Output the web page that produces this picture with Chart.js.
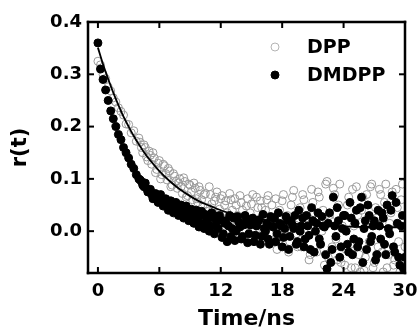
<!DOCTYPE html>
<html>
<head>
<meta charset="utf-8">
<script src="https://cdn.jsdelivr.net/npm/chart.js@4.4.1/dist/chart.umd.min.js"></script>
<style>
body { margin: 0; background: #fff; }
canvas { display: block; }
</style>
</head>
<body>
<canvas id="chart" width="418" height="332"></canvas>
<script>
// ----------------------------------------------------------------------
//	anisotropy decay r(t), DPP / DMDPP
// ----------------------------------------------------------------------
const times = [
	0,0.25,0.5,0.75,1,1.25,1.5,1.75,2,2.25,2.5,2.75,3,3.25,3.5,3.75,
	4,4.25,4.5,4.75,5,5.25,5.5,5.75,6,6.25,6.5,6.75,7,7.25,7.5,7.75,
	8,8.25,8.5,8.75,9,9.25,9.5,9.75,10,10.25,10.5,10.75,11,11.25,11.5,11.75,
	12,12.25,12.5,12.75,13,13.25,13.5,13.75,14,14.25,14.5,14.75,15,15.25,15.5,15.75,
	16,16.25,16.5,16.75,17,17.25,17.5,17.75,18,18.25,18.5,18.75,19,19.25,19.5,19.75,
	20,20.25,20.5,20.75,21,21.25,21.5,21.75,22,22.25,22.5,22.75,23,23.25,23.5,23.75,
	24,24.25,24.5,24.75,25,25.25,25.5,25.75,26,26.25,26.5,26.75,27,27.25,27.5,27.75,
	28,28.25,28.5,28.75,29,29.25,29.5,29.75,30]

const dpp_r = [
	0.325,0.318,0.300,0.292,0.276,0.268,0.255,0.247,0.236,0.229,0.222,0.205,0.204,0.188,0.192,0.172,
	0.178,0.160,0.165,0.142,0.153,0.128,0.140,0.118,0.135,0.108,0.125,0.098,0.115,0.088,0.105,0.082,
	0.100,0.072,0.095,0.068,0.088,0.060,0.082,0.055,0.078,0.048,0.072,0.045,0.070,0.040,0.065,0.035,
	0.062,0.030,0.058,0.028,0.060,0.022,0.050,0.018,0.055,0.015,0.048,0.010,0.052,0.020,0.065,0.005,
	0.045,0.030,0.060,-0.005,0.050,0.015,-0.035,0.040,0.058,0.002,0.030,-0.020,0.065,0.012,-0.030,0.045,
	0.070,-0.010,0.025,-0.045,0.055,0.008,0.075,-0.025,0.040,0.090,-0.050,0.020,0.082,-0.015,0.050,-0.060,
	0.030,-0.035,0.065,-0.070,0.010,0.085,-0.045,0.040,-0.075,0.070,-0.020,0.090,-0.060,0.025,0.080,-0.040,
	0.055,-0.070,0.015,0.075,-0.055,0.045,-0.078,0.090,-0.030]

const dmdpp_r = [
	0.360,0.310,0.290,0.270,0.250,0.230,0.215,0.200,0.185,0.175,0.160,0.150,0.140,0.128,0.120,0.108,
	0.100,0.095,0.085,0.082,0.075,0.070,0.068,0.060,0.062,0.055,0.058,0.048,0.050,0.042,0.048,0.038,
	0.044,0.032,0.040,0.028,0.036,0.022,0.033,0.020,0.030,0.015,0.032,0.012,0.025,0.010,0.028,0.005,
	0.022,-0.005,0.020,0.010,-0.010,0.025,0.000,0.018,-0.015,0.012,0.020,-0.005,0.015,-0.020,0.010,0.022,
	-0.010,0.005,0.015,-0.025,0.010,0.025,-0.005,0.015,-0.030,0.005,0.020,-0.010,0.012,0.030,-0.020,0.000,
	0.025,-0.015,0.010,-0.035,0.020,0.000,0.035,-0.025,0.010,-0.045,0.015,-0.060,0.065,-0.010,0.020,-0.030,
	0.030,0.000,-0.040,0.025,-0.015,0.040,-0.020,0.065,0.005,-0.035,0.030,-0.010,0.020,-0.045,0.010,0.035,
	-0.025,0.050,-0.005,0.068,-0.040,0.015,-0.065,0.030,-0.050]

// second set of channels, between the ones above (t >= 4 ns)
const times_b = [
	4.125,4.375,4.625,4.875,5.125,5.375,5.625,5.875,6.125,6.375,6.625,6.875,7.125,7.375,7.625,7.875,
	8.125,8.375,8.625,8.875,9.125,9.375,9.625,9.875,10.125,10.375,10.625,10.875,11.125,11.375,11.625,11.875,
	12.125,12.375,12.625,12.875,13.125,13.375,13.625,13.875,14.125,14.375,14.625,14.875,15.125,15.375,15.625,15.875,
	16.125,16.375,16.625,16.875,17.125,17.375,17.625,17.875,18.125,18.375,18.625,18.875,19.125,19.375,19.625,19.875,
	20.125,20.375,20.625,20.875,21.125,21.375,21.625,21.875,22.125,22.375,22.625,22.875,23.125,23.375,23.625,23.875,
	24.125,24.375,24.625,24.875,25.125,25.375,25.625,25.875,26.125,26.375,26.625,26.875,27.125,27.375,27.625,27.875,
	28.125,28.375,28.625,28.875,29.125,29.375,29.625,29.875]

const dpp_r_b = [
	0.170,0.150,0.160,0.135,0.145,0.150,0.112,0.130,0.100,0.128,0.110,0.120,0.085,0.110,0.095,0.092,
	0.085,0.102,0.065,0.090,0.075,0.092,0.062,0.085,0.060,0.070,0.038,0.085,0.052,0.058,0.075,0.042,
	0.068,0.050,0.035,0.072,0.040,0.062,0.030,0.068,0.040,0.025,0.062,0.035,0.070,0.000,0.045,0.058,
	0.010,0.040,0.068,0.020,-0.020,0.062,0.035,-0.010,0.070,0.025,-0.040,0.050,0.078,-0.005,0.035,-0.030,
	0.060,0.020,-0.055,0.080,0.035,-0.040,0.065,0.000,-0.065,0.095,0.030,-0.030,0.070,-0.055,0.090,0.010,
	-0.065,0.050,-0.025,0.080,-0.070,0.030,-0.078,0.065,-0.050,0.020,0.085,-0.070,0.045,-0.030,0.070,-0.078,
	0.090,-0.045,0.035,-0.065,0.080,-0.020,0.060,-0.075]

const dmdpp_r_b = [
	0.098,0.088,0.092,0.075,0.080,0.062,0.072,0.055,0.070,0.048,0.062,0.040,0.058,0.035,0.055,0.030,
	0.050,0.025,0.048,0.020,0.042,0.015,0.040,0.008,0.038,0.005,0.025,0.000,0.035,-0.005,0.018,0.030,
	-0.012,0.015,-0.020,0.030,0.005,-0.018,0.028,0.008,-0.010,0.030,-0.022,0.012,0.025,-0.008,0.018,-0.025,
	0.032,0.000,-0.015,0.028,0.008,-0.020,0.035,0.010,-0.012,0.028,-0.035,0.020,0.005,-0.025,0.040,0.010,
	-0.030,0.030,-0.008,0.045,-0.040,0.015,-0.015,0.028,0.008,-0.072,0.035,-0.035,0.010,0.045,-0.050,0.005,
	0.030,-0.025,0.055,-0.045,0.015,-0.030,0.045,-0.060,0.020,0.050,-0.020,0.010,-0.055,0.040,-0.015,0.025,
	-0.045,0.005,0.040,-0.030,0.055,-0.050,0.010,-0.072]

// fitted curve
const fit_times = [0,0.5,1,1.5,2,2.5,3,3.5,4,4.5,5,6,7,8,9,10,11,12,13,14,15,16,18,20,22,24,26,28,30]
const fit_r = [0.351,0.319,0.291,0.265,0.241,0.219,0.200,0.182,0.166,0.151,0.138,0.115,0.096,0.080,
	0.067,0.056,0.048,0.040,0.034,0.029,0.025,0.022,0.017,0.013,0.011,0.009,0.008,0.008,0.007]

const x_ticks = [0,6,12,18,24,30]
const y_ticks = [0.0,0.1,0.2,0.3,0.4]

const font_family = "'DejaVu Sans', sans-serif"

// ----------------------------------------------------------------------
function to_points (xs,ys)
{
	const points = []
	for (let it = 0; it < xs.length; it++)
		{
		points.push ({x: xs[it], y: ys[it]})
		}
	return points
}

// ----------------------------------------------------------------------
// box round the plot, inward ticks on all four sides, legend inside
const frame_plugin = {
	id: 'frame',
	afterDraw (chart)
		{
		const ctx = chart.ctx
		const a = chart.chartArea
		const sx = chart.scales.x
		const sy = chart.scales.y
		ctx.save ()
		ctx.fillStyle = '#000'
		ctx.fillRect (a.left - 1.25,a.top - 1.25,a.right - a.left + 2.5,2.5)
		ctx.fillRect (a.left - 1.25,a.bottom - 1.25,a.right - a.left + 2.5,2.5)
		ctx.fillRect (a.left - 1.25,a.top - 1.25,2.5,a.bottom - a.top + 2.5)
		ctx.fillRect (a.right - 1.25,a.top - 1.25,2.5,a.bottom - a.top + 2.5)

		for (const v of x_ticks)
			{
			const px = sx.getPixelForValue (v)
			ctx.fillRect (px - 1,a.bottom - 6,2,6)
			ctx.fillRect (px - 1,a.top,2,6)
			}
		for (const v of y_ticks)
			{
			const py = sy.getPixelForValue (v)
			ctx.fillRect (a.left,py - 1,6,2)
			ctx.fillRect (a.right - 6,py - 1,6,2)
			}

		const sets = [chart.data.datasets[2],chart.data.datasets[1]]
		ctx.font = "bold 19px " + font_family
		ctx.textBaseline = 'middle'
		ctx.textAlign = 'left'
		for (let it = 0; it < sets.length; it++)
			{
			const ds = sets[it]
			const mx = a.left + 187
			const my = a.top + 25 + it * 28
			ctx.beginPath ()
			ctx.arc (mx,my,ds.pointRadius,0,Math.PI * 2)
			if (it == 1)
				{
				ctx.fillStyle = ds.pointBackgroundColor
				ctx.fill ()
				}
			ctx.lineWidth = 1
			ctx.strokeStyle = it == 0 ? '#b4b4b4' : ds.pointBorderColor
			ctx.stroke ()
			ctx.fillStyle = '#000'
			ctx.fillText (ds.label,a.left + 219,my + 1)
			}
		ctx.restore ()
		}
	}

// ----------------------------------------------------------------------
const config = {
	type: 'scatter',
	data: {
		datasets: [
			{
			label: 'fit',
			data: to_points (fit_times,fit_r),
			showLine: true,
			borderColor: '#000',
			borderWidth: 1.8,
			pointRadius: 0,
			cubicInterpolationMode: 'monotone',
			order: 0
			},
			{
			label: 'DMDPP',
			data: to_points (times,dmdpp_r).concat (to_points (times_b,dmdpp_r_b)),
			pointRadius: 4,
			pointBackgroundColor: '#000',
			pointBorderColor: '#000',
			pointBorderWidth: 1,
			order: 1
			},
			{
			label: 'DPP',
			data: to_points (times,dpp_r).concat (to_points (times_b,dpp_r_b)),
			pointRadius: 4,
			pointBackgroundColor: 'rgba(0,0,0,0)',
			pointBorderColor: '#9a9a9a',
			pointBorderWidth: 1,
			order: 2
			}
		]
		},
	options: {
		responsive: false,
		animation: false,
		layout: {padding: {top: 22, right: 13, left: 0, bottom: 0}},
		plugins: {legend: {display: false}, tooltip: {enabled: false}},
		scales: {
			x: {
				type: 'linear',
				min: -0.97,
				max: 30,
				grid: {display: false, drawTicks: false},
				border: {display: false},
				afterBuildTicks: s => { s.ticks = x_ticks.map (v => ({value: v})) },
				afterFit: s => { s.height = 59; s.paddingLeft = 0; s.paddingRight = 0 },
				ticks: {
					color: '#000',
					padding: 8,
					maxRotation: 0,
					autoSkip: false,
					font: {family: font_family, size: 18, weight: 'bold'}
					},
				title: {
					display: true,
					text: 'Time/ns',
					color: '#000',
					padding: {top: 0, bottom: 0},
					font: {family: font_family, size: 22, weight: 'bold'}
					}
				},
			y: {
				min: -0.08,
				max: 0.4,
				grid: {display: false, drawTicks: false},
				border: {display: false},
				afterBuildTicks: s => { s.ticks = y_ticks.map (v => ({value: v})) },
				afterFit: s => { s.width = 88 },
				ticks: {
					color: '#000',
					padding: 6,
					autoSkip: false,
					callback: v => v.toFixed (1),
					font: {family: font_family, size: 18, weight: 'bold'}
					},
				title: {
					display: true,
					text: 'r(t)',
					color: '#000',
					padding: {top: 8, bottom: 0},
					font: {family: font_family, size: 21, weight: 'bold'}
					}
				}
			}
		},
	plugins: [frame_plugin]
	}

new Chart (document.getElementById ('chart'),config)

// ----------------------------------------------------------------------
</script>
</body>
</html>
